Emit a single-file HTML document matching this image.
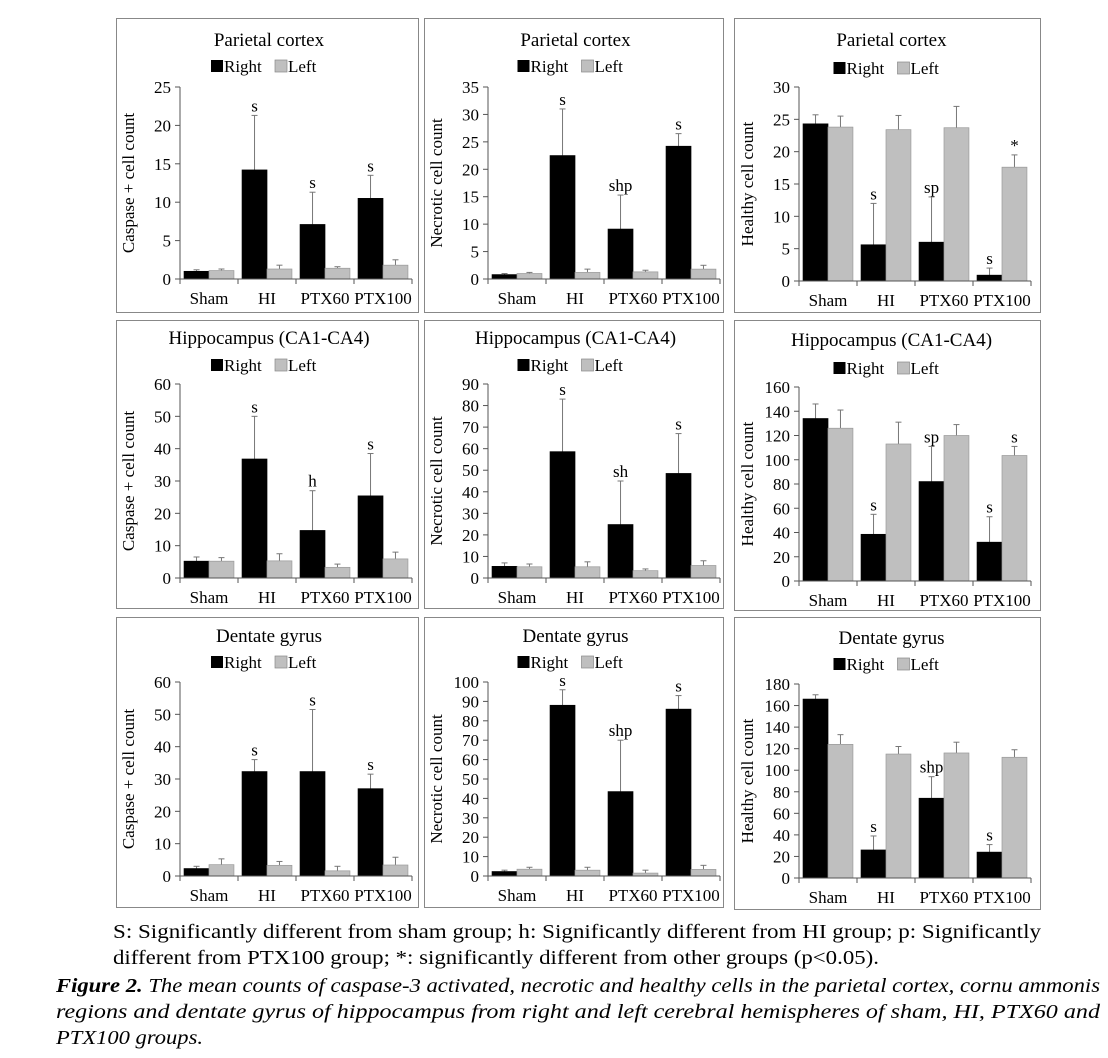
<!DOCTYPE html>
<html><head><meta charset="utf-8"><style>
html,body{margin:0;padding:0;background:#fff;}
svg{display:block;font-family:"Liberation Serif",serif;}
</style></head><body>
<svg id="s" width="1108" height="1058" viewBox="0 0 1108 1058" xmlns="http://www.w3.org/2000/svg"></svg>
<script>
const S=document.getElementById('s');let h='';
const P=[
{bx:116,by:18,bw:302,bh:294,ax:180,top:87,bot:279,max:25,step:5,t:'Parietal cortex',ty:40,ly:66,yl:'Caspase + cell count',
 R:[1,14.2,7.1,10.5],Rt:[1.2,21.3,11.3,13.5],L:[1.1,1.3,1.4,1.8],Lt:[1.3,1.8,1.6,2.5],rl:['','s','s','s'],ll:['','','','']},
{bx:424,by:18,bw:299,bh:294,ax:488,top:87,bot:279,max:35,step:5,t:'Parietal cortex',ty:40,ly:66,yl:'Necrotic cell count',
 R:[0.8,22.5,9.1,24.2],Rt:[1,31,15.3,26.5],L:[1,1.2,1.3,1.8],Lt:[1.2,1.8,1.6,2.5],rl:['','s','shp','s'],ll:['','','','']},
{bx:734,by:18,bw:306,bh:294,ax:799,top:87,bot:281,max:30,step:5,t:'Parietal cortex',ty:40,ly:68,yl:'Healthy cell count',
 R:[24.3,5.6,6,0.9],Rt:[25.7,12,13,2],L:[23.8,23.4,23.7,17.6],Lt:[25.5,25.6,27,19.5],rl:['','s','sp','s'],ll:['','','','*']},
{bx:116,by:320,bw:302,bh:288,ax:180,top:384,bot:578,max:60,step:10,t:'Hippocampus (CA1-CA4)',ty:338,ly:365,yl:'Caspase + cell count',
 R:[5.2,36.8,14.7,25.4],Rt:[6.5,50,27,38.5],L:[5.2,5.3,3.3,5.9],Lt:[6.3,7.5,4.3,8],rl:['','s','h','s'],ll:['','','','']},
{bx:424,by:320,bw:299,bh:288,ax:488,top:384,bot:578,max:90,step:10,t:'Hippocampus (CA1-CA4)',ty:338,ly:365,yl:'Necrotic cell count',
 R:[5.4,58.6,24.8,48.5],Rt:[7,83,45,67],L:[5.2,5.2,3.4,5.8],Lt:[6.5,7.5,4.2,8],rl:['','s','sh','s'],ll:['','','','']},
{bx:734,by:320,bw:306,bh:290,ax:799,top:387,bot:581,max:160,step:20,t:'Hippocampus (CA1-CA4)',ty:340,ly:368,yl:'Healthy cell count',
 R:[134,38.5,82,32],Rt:[146,55,111,53],L:[126,113,120,103.5],Lt:[141,131,129,111],rl:['','s','sp','s'],ll:['','','','s']},
{bx:116,by:617,bw:302,bh:290,ax:180,top:682,bot:876,max:60,step:10,t:'Dentate gyrus',ty:636,ly:662,yl:'Caspase + cell count',
 R:[2.3,32.3,32.3,27],Rt:[3,36,51.5,31.5],L:[3.5,3.3,1.6,3.4],Lt:[5.3,4.5,3,5.8],rl:['','s','s','s'],ll:['','','','']},
{bx:424,by:617,bw:299,bh:290,ax:488,top:682,bot:876,max:100,step:10,t:'Dentate gyrus',ty:636,ly:662,yl:'Necrotic cell count',
 R:[2.3,88,43.5,86],Rt:[3,96,70,93],L:[3.5,3,1.5,3.4],Lt:[4.5,4.5,3,5.5],rl:['','s','shp','s'],ll:['','','','']},
{bx:734,by:617,bw:306,bh:292,ax:799,top:684,bot:878,max:180,step:20,t:'Dentate gyrus',ty:638,ly:664,yl:'Healthy cell count',
 R:[166,26,74,24],Rt:[170,39,94,31],L:[124,115,116,112],Lt:[133,122,126,119],rl:['','s','shp','s'],ll:['','','','']}
];
const cats=['Sham','HI','PTX60','PTX100'];
P.forEach(p=>{
 h+=`<rect x="${p.bx+.5}" y="${p.by+.5}" width="${p.bw}" height="${p.bh}" fill="#fff" stroke="#888" stroke-width="1"/>`;
 const cx=p.bx+p.bw/2+(p.ax-p.bx-64)/2+ (p.bx==734?4:2);
 h+=`<text x="${cx}" y="${p.ty+6}" font-size="19" text-anchor="middle">${p.t}</text>`;
 const lx=cx-58;
 h+=`<rect x="${lx}" y="${p.ly-6}" width="12" height="12" fill="#000"/><text x="${lx+13}" y="${p.ly+6}" font-size="17">Right</text>`;
 h+=`<rect x="${lx+64}" y="${p.ly-6}" width="12" height="12" fill="#bfbfbf" stroke="#888" stroke-width=".7"/><text x="${lx+77}" y="${p.ly+6}" font-size="17">Left</text>`;
 const W=232,cw=W/4,ax=p.ax,y=v=>p.bot-(p.bot-p.top)*v/p.max;
 for(let v=0;v<=p.max;v+=p.step){const yy=y(v);
  h+=`<line x1="${ax-5}" y1="${yy}" x2="${ax}" y2="${yy}" stroke="#555"/><text x="${ax-9}" y="${yy+6}" font-size="17" text-anchor="end">${v}</text>`;}
 h+=`<text transform="translate(${ax-46},${(p.top+p.bot)/2}) rotate(-90)" font-size="17" text-anchor="middle">${p.yl}</text>`;
 for(let i=0;i<4;i++){
  const x0=ax+i*cw,bw=cw*0.43,rx=x0+cw*0.07,lx2=rx+bw;
  [[p.R,p.Rt,rx,'#000',p.rl],[p.L,p.Lt,lx2,'#bfbfbf',p.ll]].forEach(([d,t,x,c,lab])=>{
   const yv=y(d[i]),yt=y(t[i]),mx=x+bw/2;
   h+=`<line x1="${mx}" y1="${yv}" x2="${mx}" y2="${yt}" stroke="#777"/><line x1="${mx-3}" y1="${yt}" x2="${mx+3}" y2="${yt}" stroke="#777"/>`;
   h+=`<rect x="${x}" y="${yv}" width="${bw}" height="${p.bot-yv}" fill="${c}" stroke="${c=='#000'?'#000':'#999'}" stroke-width=".7"/>`;
   if(lab[i])h+=`<text x="${mx}" y="${yt-4}" font-size="17" text-anchor="middle">${lab[i]}</text>`;
  });
  h+=`<line x1="${x0+cw}" y1="${p.bot}" x2="${x0+cw}" y2="${p.bot+5}" stroke="#555"/>`;
  h+=`<text x="${x0+cw/2}" y="${p.bot+25}" font-size="17" text-anchor="middle">${cats[i]}</text>`;
 }
 h+=`<line x1="${ax}" y1="${p.top}" x2="${ax}" y2="${p.bot}" stroke="#555"/><line x1="${ax}" y1="${p.bot}" x2="${ax+W}" y2="${p.bot}" stroke="#555"/><line x1="${ax}" y1="${p.bot}" x2="${ax}" y2="${p.bot+5}" stroke="#555"/>`;
});
h+=`<text x="113" y="938" font-size="20" textLength="928" lengthAdjust="spacingAndGlyphs">S: Significantly different from sham group; h: Significantly different from HI group; p: Significantly</text>`;
h+=`<text x="113" y="964" font-size="20" textLength="766" lengthAdjust="spacingAndGlyphs">different from PTX100 group; *: significantly different from other groups (p&lt;0.05).</text>`;
h+=`<text x="56" y="992" font-size="20" font-style="italic" textLength="1044" lengthAdjust="spacingAndGlyphs"><tspan font-weight="bold">Figure 2.</tspan> The mean counts of caspase-3 activated, necrotic and healthy cells in the parietal cortex, cornu ammonis</text>`;
h+=`<text x="56" y="1018" font-size="20" font-style="italic" textLength="1044" lengthAdjust="spacingAndGlyphs">regions and dentate gyrus of hippocampus from right and left cerebral hemispheres of sham, HI, PTX60 and</text>`;
h+=`<text x="56" y="1044" font-size="20" font-style="italic" textLength="147" lengthAdjust="spacingAndGlyphs">PTX100 groups.</text>`;
S.innerHTML=h;
</script>
</body></html>
